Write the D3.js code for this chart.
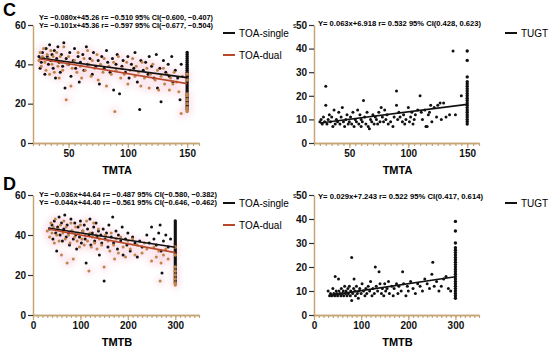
<!DOCTYPE html>
<html>
<head>
<meta charset="utf-8">
<script src="https://cdn.jsdelivr.net/npm/d3@7"></script>
<style>
  body { margin: 0; background: #fff; }
  text { font-family: 'Liberation Sans', Arial, sans-serif; }
</style>
</head>
<body>
<div id="viz"></div>
<script>
// ---- data ----

// C: TOA vs TMTA
const cSingle = [[25,44],[26,38],[27,41],[28,46],[29,43],[30,35],[31,48],[32,44],[33,40],[34,50],[35,42],[36,45],[37,38],[38,47],[39,33],[40,43],[41,49],[42,41],[43,36],[44,45],[45,39],[46,51],[47,28],[48,43],[50,40],[51,46],[52,34],[54,42],[55,48],[56,38],[58,44],[59,31],[60,41],[62,45],[63,37],[65,49],[66,40],[68,43],[70,35],[71,46],[73,39],[75,42],[76,30],[78,44],[80,38],[82,47],[83,41],[85,36],[87,43],[88,27],[90,40],[91,45],[93,25],[95,39],[96,42],[98,36],[100,44],[101,33],[103,40],[105,38],[106,46],[108,31],[110,17],[111,42],[113,37],[115,41],[117,35],[118,44],[120,39],[122,33],[124,45],[125,28],[127,38],[128,21],[130,42],[132,36],[134,40],[135,34],[137,44],[138,31],[140,37],[142,33],[144,22],[145,40],
  [150,46],[150,45],[150,44],[150,43],[150,42],[150,41],[150,40],[150,39],[150,38],[150,37],[150,36],[150,35],[150,34],[150,33],[150,32],[150,31],[150,30],[150,29],[150,28],[150,27],[150,26],[150,25],[150,24],[150,23],[150,22],[150,21],[150,20],[150,19],[150,18],[150,17]];
const cDual = [[25,42],[26,46],[27,39],[28,44],[29,48],[30,41],[31,37],[32,45],[33,43],[34,35],[35,47],[36,40],[37,44],[38,36],[39,42],[40,46],[41,39],[42,33],[43,44],[44,41],[45,37],[46,49],[48,22],[49,40],[50,44],[52,29],[53,38],[55,42],[57,36],[58,46],[60,39],[61,33],[63,43],[64,37],[66,47],[67,40],[69,34],[70,42],[72,38],[74,45],[75,32],[77,40],[79,36],[80,43],[82,29],[84,39],[86,35],[88,41],[89,16],[90,37],[92,44],[94,33],[95,38],[97,35],[99,41],[100,30],[102,37],[104,43],[106,34],[107,39],[109,36],[111,29],[112,41],[114,33],[116,38],[118,28],[119,35],[121,40],[123,32],[125,37],[126,27],[128,34],[130,38],[131,30],[133,35],[135,27],[136,33],[138,30],[139,36],[141,31],[143,26],[145,15],[146,34],
  [150,35],[150,32],[150,25],[150,24],[150,22],[150,20],[150,18],[150,17],[150,16]];
const cTugt = [[25,9],[26,10],[27,8],[28,11],[29,9],[30,24],[30,16],[31,8],[32,10],[33,12],[34,9],[35,11],[36,7],[37,14],[38,8],[39,10],[40,9],[41,13],[42,8],[43,11],[44,15],[45,9],[46,7],[47,10],[48,12],[49,8],[50,9],[51,11],[52,8],[53,13],[54,7],[55,10],[56,9],[57,14],[58,8],[59,12],[60,10],[60,7],[61,9],[62,18],[63,11],[64,8],[65,13],[66,7],[67,6],[68,10],[69,9],[70,12],[71,8],[72,11],[73,10],[74,8],[75,13],[76,9],[77,15],[78,11],[79,9],[80,14],[81,10],[82,12],[83,8],[85,9],[87,7],[88,11],[90,22],[90,16],[91,10],[92,13],[93,11],[95,9],[96,12],[97,8],[98,10],[100,15],[101,9],[102,11],[103,13],[104,8],[105,10],[106,12],[108,14],[110,20],[111,13],[112,10],[114,14],[115,7],[116,7],[117,12],[118,13],[119,16],[120,9],[122,15],[124,11],[125,16],[127,17],[128,10],[130,17],[132,11],[135,12],[138,39],[140,12],[145,20],
  [150,39],[150,35],[150,28],[150,26],[150,25],[150,24],[150,23],[150,22],[150,21],[150,20],[150,19],[150,18],[150,17],[150,16],[150,15],[150,14],[150,13],[150,12],[150,11],[150,10],[150,9],[150,8]];

// D: TOA vs TMTB
const dSingle = [[35,43],[40,45],[42,38],[45,47],[48,41],[50,32],[52,44],[55,49],[57,40],[60,46],[62,37],[65,43],[67,50],[70,39],[72,45],[75,41],[77,35],[80,48],[82,42],[85,38],[88,46],[90,40],[92,33],[95,44],[98,39],[100,47],[102,36],[105,42],[108,45],[110,38],[112,26],[115,43],[118,40],[120,48],[122,35],[125,41],[128,44],[130,37],[133,46],[135,39],[138,42],[140,30],[143,40],[145,36],[148,43],[150,17],[152,38],[155,41],[158,34],[160,45],[165,39],[168,49],[170,36],[175,42],[178,33],[180,40],[185,37],[188,44],[190,30],[195,38],[198,35],[200,41],[205,32],[210,39],[215,36],[220,29],[225,37],[230,34],[240,40],[245,36],[250,44],[255,38],[260,35],[265,41],[268,45],[270,32],[272,21],[275,37],[280,40],[285,34],[290,38],
  [300,47],[300,46],[300,45],[300,44],[300,43],[300,42],[300,41],[300,40],[300,39],[300,38],[300,37],[300,36],[300,35],[300,34],[300,33],[300,32],[300,31],[300,30],[300,29],[300,28],[300,27],[300,26],[300,25],[300,24],[300,23],[300,22],[300,21],[300,20],[300,19],[300,18],[300,17],[300,16]];
const dDual = [[30,42],[35,39],[38,46],[40,41],[43,44],[45,36],[47,48],[50,40],[53,43],[55,37],[58,45],[60,30],[63,41],[65,47],[68,38],[70,44],[72,26],[75,40],[78,36],[80,46],[83,42],[85,28],[88,39],[90,44],[93,37],[95,41],[98,34],[100,45],[103,38],[105,42],[108,35],[110,40],[113,47],[115,37],[118,22],[120,41],[123,34],[125,39],[128,46],[130,36],[133,40],[135,33],[138,43],[140,38],[145,35],[150,24],[153,40],[158,37],[162,32],[165,41],[170,35],[172,28],[175,38],[180,31],[185,39],[190,34],[195,29],[200,37],[205,33],[210,38],[215,30],[220,35],[230,31],[235,36],[240,33],[250,27],[255,34],[260,29],[265,32],[268,17],[270,26],[275,30],[280,33],[285,28],
  [300,34],[300,30],[300,24],[300,22],[300,20],[300,18],[300,16],[300,15]];
const dTugt = [[30,10],[33,8],[35,9],[38,8],[40,11],[42,9],[44,8],[45,16],[47,10],[48,9],[50,8],[52,15],[53,10],[55,9],[57,8],[58,11],[60,9],[62,10],[63,8],[65,12],[67,9],[68,10],[70,8],[72,11],[73,9],[75,12],[77,8],[78,10],[80,24],[80,6],[82,9],[84,11],[85,15],[87,10],[88,8],[90,12],[92,9],[94,7],[95,10],[97,11],[100,9],[102,13],[105,10],[108,8],[110,11],[112,9],[115,12],[118,10],[120,14],[123,8],[125,11],[128,9],[130,20],[132,12],[135,10],[138,18],[140,13],[143,9],[145,11],[148,8],[150,13],[152,10],[155,11],[158,14],[160,9],[165,12],[168,8],[170,11],[175,13],[178,9],[180,12],[185,10],[188,18],[190,13],[195,8],[198,12],[200,10],[205,14],[210,11],[215,9],[220,13],[225,12],[230,10],[235,15],[240,13],[245,11],[250,17],[252,22],[255,12],[260,14],[265,10],[270,12],[275,15],[280,16],[285,11],[290,10],
  [300,39],[300,35],[300,30],[300,28],[300,27],[300,26],[300,25],[300,24],[300,23],[300,22],[300,21],[300,20],[300,19],[300,18],[300,17],[300,16],[300,15],[300,14],[300,13],[300,12],[300,11],[300,10],[300,9],[300,8],[300,7]];

// fitted lines: [slope, intercept, xFrom, xTo]
const fitCSingle = [-0.080, 45.26, 25, 150];
const fitCDual = [-0.101, 45.36, 25, 150];
const fitCTugt = [0.063, 6.918, 25, 150];
const fitDSingle = [-0.036, 44.64, 32, 300];
const fitDDual = [-0.044, 44.40, 32, 300];
const fitDTugt = [0.029, 7.243, 32, 300];

const eqC = ['Y= \u22120.080x+45.26  r= \u22120.510   95% CI(\u22120.600, \u22120.407)',
             'Y= \u22120.101x+45.36  r= \u22120.597   95% CI(\u22120.677, \u22120.504)'];
const eqCT = ['Y= 0.063x+6.918  r= 0.532   95% CI(0.428, 0.623)'];
const eqD = ['Y= \u22120.036x+44.64  r= \u22120.487   95% CI(\u22120.580, \u22120.382)',
             'Y= \u22120.044x+44.40  r= \u22120.561   95% CI(\u22120.646, \u22120.462)'];
const eqDT = ['Y= 0.029x+7.243  r= 0.522      95% CI(0.417, 0.614)'];

const axisColor = '#c4a574',
  singleColor = '#111',
  dualColor = '#c0844a',
  dualLine = '#b8482a';

const svg = d3.select('#viz')
  .append('svg')
  .attr('width', 550)
  .attr('height', 348);

svg.append('defs').append('filter')
  .attr('id', 'soft')
  .attr('x', '-20%').attr('y', '-20%').attr('width', '140%').attr('height', '140%')
  .append('feGaussianBlur')
  .attr('stdDeviation', 3);

function panel(o) {
  const x = d3.scaleLinear().domain(o.xDomain).range([o.left, o.right]);
  const y = d3.scaleLinear().domain(o.yDomain).range([o.bottom, o.top]);
  const g = svg.append('g');

  // soft pink haze behind the dual points
  if (o.dual) {
    g.append('g')
      .attr('filter', 'url(#soft)')
      .attr('opacity', 0.45)
      .selectAll('circle')
      .data(o.dual).enter().append('circle')
      .attr('cx', d => x(d[0]))
      .attr('cy', d => y(d[1]))
      .attr('r', 4)
      .attr('fill', '#f5b8cb');
  }

  const series = o.dual ? [[o.single, singleColor], [o.dual, dualColor]] : [[o.single, singleColor]];
  series.forEach(s => {
    g.append('g').selectAll('circle')
      .data(s[0]).enter().append('circle')
      .attr('cx', d => x(d[0]))
      .attr('cy', d => y(d[1]))
      .attr('r', d => d[0] === o.cap ? 1.7 : 1.5)
      .attr('fill', s[1]);
  });

  const fits = o.dual ? [[o.fitSingle, singleColor], [o.fitDual, dualLine]] : [[o.fitSingle, singleColor]];
  fits.forEach(f => {
    const p = f[0];
    g.append('line')
      .attr('x1', x(p[2])).attr('y1', y(p[0] * p[2] + p[1]))
      .attr('x2', x(p[3])).attr('y2', y(p[0] * p[3] + p[1]))
      .attr('stroke', f[1])
      .attr('stroke-width', 1.6);
  });

  // axes
  const xMinor = d3.axisBottom(x)
    .tickValues(d3.range(o.xDomain[0], o.xDomain[1] + 0.01, o.minor))
    .tickSize(3).tickSizeOuter(0).tickFormat('');
  const xMajor = d3.axisBottom(x)
    .tickValues(o.xTicks).tickSize(5).tickSizeOuter(0).tickPadding(2);
  const yAxis = d3.axisLeft(y)
    .tickValues(o.yTicks).tickSize(5).tickSizeOuter(0).tickPadding(2);

  const gx1 = g.append('g').attr('transform', 'translate(0,' + o.bottom + ')').call(xMinor);
  const gx2 = g.append('g').attr('transform', 'translate(0,' + o.bottom + ')').call(xMajor);
  const gy = g.append('g').attr('transform', 'translate(' + o.left + ',0)').call(yAxis);
  [gx1, gx2, gy].forEach(a => {
    a.select('.domain').attr('stroke', axisColor).attr('stroke-width', 1.5);
    a.selectAll('.tick line').attr('stroke', axisColor).attr('stroke-width', 1.2);
    a.selectAll('.tick text')
      .attr('fill', '#111')
      .style('font-size', '10px')
      .style('font-weight', 'bold')
      .style('font-family', "'Liberation Sans', Arial, sans-serif");
  });
  gy.selectAll('.tick line').attr('stroke', '#333');

  g.append('text')
    .attr('x', (o.left + o.right) / 2 + 1)
    .attr('y', o.bottom + 31)
    .attr('text-anchor', 'middle')
    .style('font-size', '11px')
    .style('font-weight', 'bold')
    .text(o.xTitle);

  o.eq.forEach((t, i) => {
    g.append('text')
      .attr('x', o.eqX)
      .attr('y', o.eqY + i * 8)
      .attr('textLength', o.eqW)
      .attr('lengthAdjust', 'spacingAndGlyphs')
      .style('font-size', '8px')
      .style('font-weight', 'bold')
      .text(t);
  });

  if (o.unit) {
    g.append('text')
      .attr('x', o.left - 21)
      .attr('y', o.top + 3)
      .style('font-size', '7px')
      .text(o.unit);
  }

  // legend
  o.legend.forEach((l, i) => {
    const ly = o.legY + i * 22;
    g.append('line')
      .attr('x1', o.legX).attr('x2', o.legX + 12)
      .attr('y1', ly).attr('y2', ly)
      .attr('stroke', l[1]).attr('stroke-width', 2);
    g.append('text')
      .attr('x', o.legX + 16)
      .attr('y', ly + 3.5)
      .style('font-size', '10px')
      .text(l[0]);
  });
}

panel({
  xDomain: [20, 160], yDomain: [0, 60], left: 33, right: 199, top: 25, bottom: 143,
  xTicks: [50, 100, 150], yTicks: [0, 20, 40, 60], minor: 5, cap: 150,
  single: cSingle, dual: cDual, fitSingle: fitCSingle, fitDual: fitCDual,
  xTitle: 'TMTA', eq: eqC, eqX: 39, eqY: 20, eqW: 174,
  legend: [['TOA-single', singleColor], ['TOA-dual', dualLine]], legX: 223, legY: 33
});
panel({
  xDomain: [20, 160], yDomain: [0, 50], left: 314, right: 479, top: 25, bottom: 143,
  xTicks: [50, 100, 150], yTicks: [0, 10, 20, 30, 40, 50], minor: 5, cap: 150,
  single: cTugt, fitSingle: fitCTugt, unit: 's',
  xTitle: 'TMTA', eq: eqCT, eqX: 318, eqY: 26, eqW: 163,
  legend: [['TUGT', singleColor]], legX: 505, legY: 33
});
panel({
  xDomain: [0, 350], yDomain: [0, 60], left: 33, right: 199, top: 195, bottom: 315,
  xTicks: [0, 100, 200, 300], yTicks: [0, 20, 40, 60], minor: 10, cap: 300,
  single: dSingle, dual: dDual, fitSingle: fitDSingle, fitDual: fitDDual,
  xTitle: 'TMTB', eq: eqD, eqX: 39, eqY: 197, eqW: 178,
  legend: [['TOA-single', singleColor], ['TOA-dual', dualLine]], legX: 223, legY: 203
});
panel({
  xDomain: [0, 350], yDomain: [0, 50], left: 314, right: 479, top: 195, bottom: 315,
  xTicks: [0, 100, 200, 300], yTicks: [0, 10, 20, 30, 40, 50], minor: 10, cap: 300,
  single: dTugt, fitSingle: fitDTugt, unit: 's',
  xTitle: 'TMTB', eq: eqDT, eqX: 318, eqY: 199, eqW: 165,
  legend: [['TUGT', singleColor]], legX: 505, legY: 203
});

// panel letters
svg.append('text').attr('x', 3).attr('y', 16)
  .style('font-size', '18px').style('font-weight', 'bold').text('C');
svg.append('text').attr('x', 3).attr('y', 190)
  .style('font-size', '18px').style('font-weight', 'bold').text('D');
</script>
</body>
</html>
